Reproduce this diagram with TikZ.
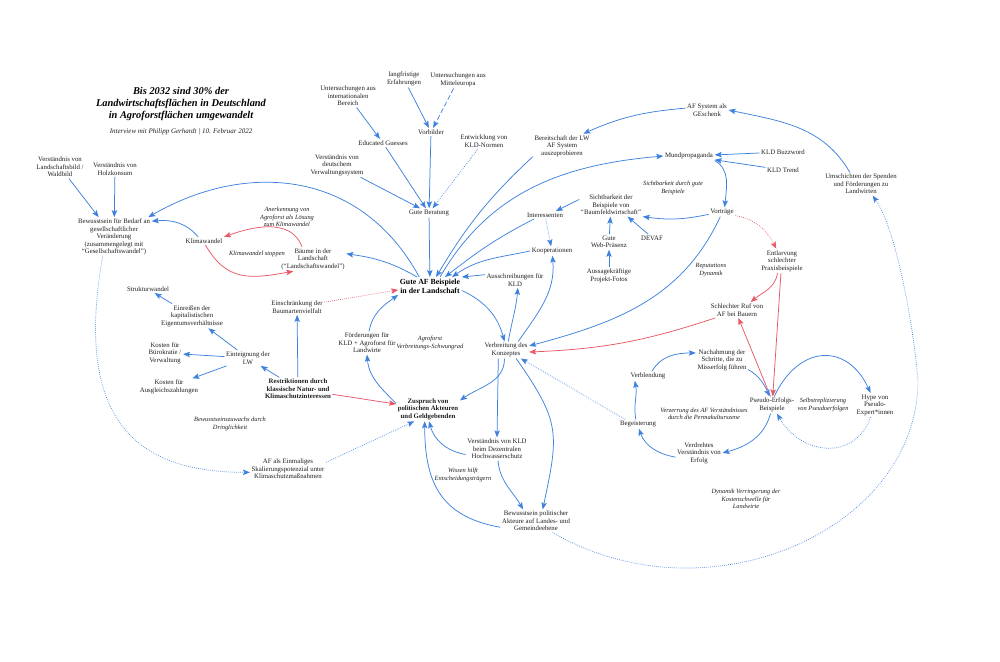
\documentclass[tikz,border=0pt]{standalone}
\usepackage{fontspec}
\setmainfont{Liberation Serif}
\usetikzlibrary{arrows.meta,calc}
\definecolor{abl}{RGB}{62,130,222}
\definecolor{ared}{RGB}{231,88,102}
\newcommand{\fsn}{\fontsize{6.8}{7.5}\selectfont}
\newcommand{\fsi}{\fontsize{6.4}{7.4}\selectfont}
\begin{document}
\begin{tikzpicture}[x=1pt,y=1pt,
  lbl/.style={align=center,font=\fsn,inner sep=1.5pt,text=black!88},
  it/.style={lbl,font=\fsi\itshape},
  bf/.style={lbl,font=\fsn\bfseries},
  arr/.style={draw=abl,line width=0.75pt,-{Stealth[length=7pt,width=5.4pt,inset=1.4pt]}},
  rarr/.style={arr,draw=ared},
  dots/.style={dash pattern=on 0.7pt off 1.3pt,line width=0.7pt},
  dsh/.style={dash pattern=on 5pt off 2.5pt}]
\fill[white] (0,0) rectangle (1000,-661);
\useasboundingbox (0,0) rectangle (1000,-661);
% title
\node[align=center,font=\fontsize{10.4}{11.6}\selectfont\bfseries\itshape] (title) at (181,-104) {Bis 2032 sind 30\% der\\Landwirtschaftsflächen in Deutschland\\in Agroforstflächen umgewandelt};
\node[lbl,font=\fontsize{7}{8}\selectfont\itshape] (sub) at (181,-132) {Interview mit Philipp Gerhardt | 10. Februar 2022};
% left
\node[lbl] (vlw) at (60,-167) {Verständnis von\\Landschaftsbild /\\Waldbild};
\node[lbl] (vhk) at (115,-169) {Verständnis von\\Holzkonsum};
\node[lbl] (bew) at (114,-237) {Bewusstsein für Bedarf an\\gesellschaftlicher\\Veränderung\\(zusammengelegt mit\\“Gesellschaftswandel”)};
\node[lbl] (klima) at (204,-241) {Klimawandel};
\node[it] (anerk) at (287,-217) {Anerkennung von\\Agroforst als Lösung\\zum Klimawandel};
\node[it] (kstop) at (257,-254) {Klimawandel stoppen};
\node[lbl] (baeume) at (313,-259) {Bäume in der\\Landschaft\\(“Landschaftswandel”)};
\node[align=center,inner sep=1.5pt,font=\fontsize{7.8}{9}\selectfont\bfseries] (gute) at (430,-286) {Gute AF Beispiele\\in der Landschaft};
\node[lbl] (berat) at (429,-213) {Gute Beratung};
\node[lbl] (vvw) at (337,-165) {Verständnis von\\deutschem\\Verwaltungssystem};
\node[lbl] (edu) at (383,-143) {Educated Guesses};
\node[lbl] (uint) at (348,-96) {Untersuchungen aus\\internationalen\\Bereich};
\node[lbl] (langf) at (404,-79) {langfristige\\Erfahrungen};
\node[lbl] (umit) at (458,-80) {Untersuchungen aus\\Mitteleuropa};
\node[lbl] (vorb) at (431,-132) {Vorbilder};
\node[lbl] (kldn) at (484,-141) {Entwicklung von\\KLD-Normen};
% right top
\node[lbl] (bereit) at (562,-146) {Bereitschaft der LW\\AF System\\auszuprobieren};
\node[lbl] (gesch) at (707,-110) {AF System als\\GEschenk};
\node[lbl] (mund) at (689,-156) {Mundpropaganda};
\node[lbl] (buzz) at (783,-152) {KLD Buzzword};
\node[lbl] (trend) at (783,-170) {KLD Trend};
\node[lbl] (umsch) at (861,-184) {Umschichten der Spenden\\und Förderungen zu\\Landwirten};
\node[it] (sichtit) at (673,-188) {Sichtbarkeit durch gute\\Beispiele};
\node[lbl] (sicht) at (611,-205) {Sichtbarkeit der\\Beispiele von\\“Baumfeldwirtschaft”};
\node[lbl] (inter) at (545,-215) {Interessenten};
\node[lbl] (vortr) at (722,-212) {Vorträge};
\node[lbl] (web) at (609,-242) {Gute\\Web-Präsenz};
\node[lbl] (devaf) at (652,-238) {DEVAF};
\node[lbl] (fotos) at (609,-276) {Aussagekräftige\\Projekt-Fotos};
\node[lbl] (koop) at (552,-251) {Kooperationen};
\node[lbl] (aussch) at (515,-280) {Ausschreibungen für\\KLD};
\node[lbl] (verbr) at (506,-350) {Verbreitung des\\Konzeptes};
\node[it] (repu) at (711,-270) {Reputations\\Dynamik};
\node[lbl] (entl) at (782,-261) {Entlarvung\\schlechter\\Praxisbeispiele};
\node[lbl] (ruf) at (737,-310) {Schlechter Ruf von\\AF bei Bauern};
\node[lbl] (nach) at (722,-360) {Nachahmung der\\Schritte, die zu\\Misserfolg führen};
\node[lbl] (verbl) at (648,-376) {Verblendung};
\node[lbl] (pseudo) at (772,-405) {Pseudo-Erfolgs-\\Beispiele};
\node[it] (selbst) at (823,-405) {Selbstreplizierung\\von Pseudoerfolgen};
\node[lbl] (hype) at (875,-405) {Hype von\\Pseudo-\\Expert*innen};
\node[it] (verz) at (704,-414) {Verzerrung des AF Verständnisses\\durch die Permakulturszene};
\node[lbl] (begeist) at (638,-424) {Begeisterung};
\node[lbl] (verdr) at (699,-453) {Verdrehtes\\Verständnis von\\Erfolg};
\node[it] (dynk) at (746,-499) {Dynamik Verringerung der\\Kostenschwelle für\\Landwirte};
% bottom
\node[bf] (zusp) at (428,-409) {Zuspruch von\\politischen Akteuren\\und Geldgebenden};
\node[lbl] (vkld) at (497,-449) {Verständnis von KLD\\beim Dezentralen\\Hochwasserschutz};
\node[it] (wiss) at (463,-475) {Wissen hilft\\Entscheidungsträgern};
\node[lbl] (bpol) at (536,-521) {Bewusstsein politischer\\Akteure auf Landes- und\\Gemeindeebene};
\node[lbl] (afein) at (288,-469) {AF als Einmaliges\\Skalierungspotenzial unter\\Klimaschutzmaßnahmen};
\node[it] (bewz) at (230,-424) {Bewusstseinszuwachs durch\\Dringlichkeit};
\node[bf] (restr) at (298,-389) {Restriktionen durch\\klassische Natur- und\\Klimaschutzinteressen};
\node[lbl] (foerd) at (367,-343) {Förderungen für\\KLD + Agroforst für\\Landwirte};
\node[it] (schwung) at (430,-343) {Agroforst\\Verbreitungs-Schwungrad};
\node[lbl] (einschr) at (297,-307) {Einschränkung der\\Baumartenvielfalt};
\node[lbl] (strukt) at (148,-289) {Strukturwandel};
\node[lbl] (einr) at (192,-316) {Einreißen der\\kapitalistischen\\Eigentumsverhältnisse};
\node[lbl] (kbuer) at (165,-353) {Kosten für\\Bürokratie /\\Verwaltung};
\node[lbl] (entei) at (248,-358) {Einteignung der\\LW};
\node[lbl] (kausg) at (169,-387) {Kosten für\\Ausgleichszahlungen};
\coordinate (arcR) at (918,-380);
% ---- connectors left
\draw[arr] (vlw) -- (bew);
\draw[arr] (vhk) -- (bew);
\draw[arr] (gute.140) .. controls +(-60,110) and +(95,55) .. (bew.30);
\draw[arr] (klima.145) to[out=130,in=5] ([yshift=-4pt]bew.north east);
\draw[rarr] (baeume.132) to[out=110,in=20] (klima.north east);
\draw[rarr] (klima.-70) to[out=-60,in=190,looseness=1.2] (baeume.212);
\draw[arr] (gute.145) to[out=150,in=-8] (baeume.9);
\draw[arr] (berat) -- (gute);
\draw[arr] (edu) -- (berat);
\draw[arr] (vvw) -- (berat);
\draw[arr] (vorb) -- (berat);
\draw[arr,dots] (kldn) -- (berat);
\draw[arr] (uint) -- (edu);
\draw[arr] (langf) -- (vorb);
\draw[arr,dsh] (umit) -- (vorb);
\draw[arr] (bereit.200) to[out=223,in=59] ([xshift=6pt]gute.north);
\draw[arr] ([xshift=10pt]gute.north) to[out=60,in=185] (mund.west);
\draw[arr] (inter.200) to[out=207,in=38] ([xshift=15pt]gute.north);
\draw[arr] (koop.west) to[out=192,in=35] ([xshift=22pt]gute.north);
\draw[arr] (aussch.170) -- (gute.north east);
\draw[arr] (gute.-8) to[out=-25,in=105] (verbr.100);
\draw[arr] (verbr.75) to[out=80,in=-95] (aussch.-70);
\draw[arr] (verbr.35) to[out=55,in=-85] (koop.-85);
\draw[arr] (vortr.-110) to[out=245,in=15] (verbr.10);
\draw[rarr] (ruf.-160) to[bend left=8] (verbr.-5);
\draw[arr,dots] (begeist.160) -- (verbr.-30);
\draw[arr] (verbr.-100) to[out=-90,in=35] (zusp.15);
\draw[arr] (verbr.-132) -- (vkld.north);
\draw[arr] (verbr.-40) to[out=-55,in=78,looseness=1.3] (bpol.60);
\draw[arr] (vkld.-85) to[out=-85,in=120] (bpol.138);
\draw[arr] (bpol.190) to[out=170,in=-90,looseness=1.2] (zusp.-105);
\draw[arr] (vkld.190) to[out=170,in=-75] (zusp.-85);
\draw[arr] (zusp.170) to[out=135,in=-85] (foerd.south);
\draw[arr] (foerd.80) to[out=80,in=215] (gute.south west);
\draw[rarr,dots] (einschr.10) -- (gute.187);
\draw[rarr] (restr) -- (zusp);
\draw[arr] (restr) -- (einschr);
\draw[arr] (restr) -- (entei);
\draw[arr] (entei) -- (einr);
\draw[arr] (einr) -- (strukt);
\draw[arr] (entei) -- (kbuer);
\draw[arr] (entei) -- (kausg);
\draw[arr,dots] (bew.-120) .. controls +(-100:170) and +(180:110) .. (afein.185);
\draw[arr,dots] (afein.10) -- (zusp.-138);
% ---- connectors right
\draw[arr] (gesch.175) to[out=185,in=24] (bereit.30);
\draw[arr] (umsch.134) to[out=120,in=-12] (gesch.east);
\draw[arr] (buzz) -- (mund);
\draw[arr] (trend) -- (mund);
\draw[arr] (mund.-10) to[out=-30,in=85] (vortr.60);
\draw[arr] (vortr.190) to[bend left=10] (sicht.-20);
\draw[arr] (sicht.170) -- (inter.20);
\draw[arr] (web) -- (sicht);
\draw[arr] (devaf.135) -- (sicht.-35);
\draw[arr] (fotos) -- (web);
\draw[arr,dots] (inter) -- (koop);
\draw[rarr,dots] (vortr.-15) to[out=-10,in=117] (entl.115);
\draw[rarr] (entl.-110) to[out=-100,in=40] (ruf.30);
\draw[rarr] (entl.-95) -- (pseudo.85);
\draw[rarr] (pseudo.100) -- (ruf.-80);
\draw[arr] (nach.-20) to[out=-30,in=115] (pseudo.105);
\draw[arr] (pseudo.75) to[out=65,in=115,looseness=1.5] (hype.110);
\draw[arr,dots] (hype.-110) to[out=-110,in=-60,looseness=1.3] (pseudo.-60);
\draw[arr] (pseudo.-100) to[out=-105,in=15] (verdr.east);
\draw[arr] (verdr.190) to[out=170,in=-70] (begeist.-80);
\draw[arr] (begeist.115) to[out=100,in=-80] (verbl.-160);
\draw[arr] (verbl.50) to[out=60,in=180] (nach.165);
\draw[arr,dots] (bpol.-35) .. controls +(-30:180) and +(0,-150) .. (arcR) .. controls +(95:60) and +(-55:40) .. (umsch.-45);
\end{tikzpicture}
\end{document}
